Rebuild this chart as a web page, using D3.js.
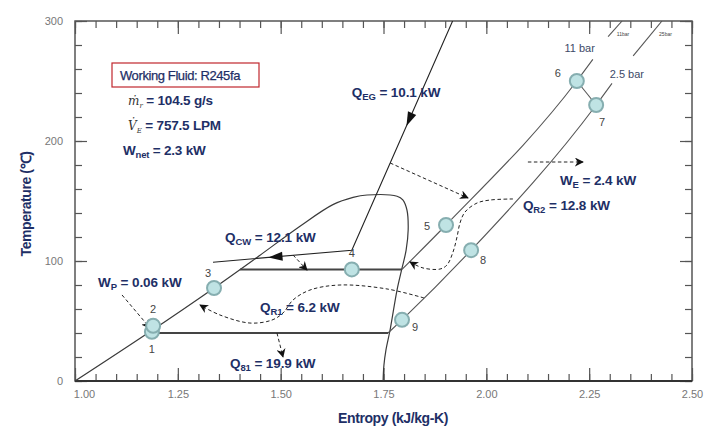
<!DOCTYPE html>
<html><head><meta charset="utf-8">
<script src="https://cdn.jsdelivr.net/npm/d3@7"></script>
<style>
body{margin:0;background:#fff}
svg{display:block}
text{font-family:"Liberation Sans",Arial,sans-serif}
</style>
</head><body>
<svg id="chart" width="714" height="436"></svg>
<script>
// ---------------- DATA ----------------
const xDomain = [1.0, 2.5];
const yDomain = [0, 300];
const xTicks = [1.00, 1.25, 1.50, 1.75, 2.00, 2.25, 2.50];
const xTickLabels = ["1.00", "1.25", "1.50", "1.75", "2.00", "2.25", "2.50"];
const yTicks = [0, 100, 200, 300];
const yTickLabels = ["0", "100", "200", "300"];
const xTitle = "Entropy (kJ/kg-K)";
const yTitle = "Temperature (℃)";

// saturation dome (entropy, temperature)
const domeS = [1.00, 1.1775, 1.34, 1.4425, 1.547, 1.627, 1.676, 1.71, 1.783, 1.797, 1.807, 1.81, 1.805, 1.795, 1.783, 1.766, 1.756, 1.751, 1.749];
const domeT = [0, 40, 78, 103, 129, 147, 153, 155, 154, 151, 142.5, 126, 109, 94, 76, 42.5, 26, 13, 0];

// state points
const stateLabels = ["1", "2", "3", "4", "5", "6", "7", "8", "9"];
const stateS = [1.187, 1.190, 1.338, 1.673, 1.902, 2.220, 2.267, 1.963, 1.795];
const stateT = [41, 46, 77.5, 93, 130, 250, 230, 109, 51];

// 11 bar isobar: evaporation + superheated branch
const evapS = [1.401, 1.795];
const evapT = [93, 93];
const hpS = [1.795, 1.902, 2.220, 2.259];
const hpT = [93, 130, 250, 268];
// 2.5 bar isobar: condensation + superheated branch
const condS = [1.1775, 1.761];
const condT = [40, 40];
const lpS = [1.761, 1.795, 1.963, 2.267, 2.3055];
const lpT = [40, 51, 109, 230, 248];
// short isobar stubs at the top right
const stub11S = [2.296, 2.330];
const stub11T = [287, 300];
const stub25S = [2.357, 2.427];
const stub25T = [271, 300];

// exhaust gas / coolant line
const egS = [1.918, 1.673, 1.3355];
const egT = [300, 109, 99];

// dashed heat-flow arrows
const dashWE_S = [2.101, 2.235];           const dashWE_T = [182.5, 182.5];
const dashEG_S = [1.766, 1.9555];          const dashEG_T = [181.7, 152.5];
const dashR2_S = [2.0648, 2.0089, 1.9773, 1.9481, 1.936, 1.9287, 1.919, 1.9044, 1.8874, 1.846, 1.8144];
const dashR2_T = [151.7, 150.8, 148.3, 140.8, 131.7, 120, 107.5, 96.7, 93.3, 94.2, 99.2];
const dashR1_S = [1.8485, 1.7585, 1.6443, 1.5713, 1.53, 1.5057, 1.4789, 1.4254, 1.3525, 1.3039];
const dashR1_T = [69.2, 76.7, 80, 75.8, 67.5, 56.7, 50.8, 48.3, 55, 63.3];
const dashCW_S = [1.530, 1.564];           const dashCW_T = [105, 92.5];
const dashWP_S = [1.1143, 1.1823];         const dashWP_T = [71.7, 44.2];
const dash81_S = [1.491, 1.5057];          const dash81_T = [40, 20];

// annotation texts: [main, subscript, rest]
const annoMain = ["Q", "W", "Q", "Q", "W", "Q", "Q"];
const annoSub = ["EG", "E", "R2", "CW", "P", "R1", "81"];
const annoRest = [" = 10.1 kW", " = 2.4 kW", " = 12.8 kW", " = 12.1 kW", " = 0.06 kW", " = 6.2 kW", " = 19.9 kW"];
const annoS = [1.673, 2.179, 2.089, 1.3647, 1.0559, 1.4498, 1.3768];
const annoT = [240.8, 167.5, 146.7, 120, 82.5, 61.7, 15];

const fluidText = "Working Fluid: R245fa";
const massText = " = 104.5 g/s";
const volText = " = 757.5 LPM";
const wnetText = " = 2.3 kW";
const bar11 = "11 bar", bar25 = "2.5 bar", tiny11 = "11bar", tiny25 = "25bar";

// ---------------- CHART ----------------
const svg = d3.select("#chart");
const x = d3.scaleLinear().domain(xDomain).range([75, 692]);
const y = d3.scaleLinear().domain(yDomain).range([381, 21]);
const navy = "#1e2f66";

svg.append("defs").append("clipPath").attr("id", "clip")
  .append("rect").attr("x", 75).attr("y", 21).attr("width", 617).attr("height", 360);
const defs = svg.select("defs");
defs.append("marker").attr("id", "ah").attr("viewBox", "0 0 10 10").attr("refX", 9).attr("refY", 5)
  .attr("markerWidth", 9).attr("markerHeight", 9).attr("markerUnits", "userSpaceOnUse").attr("orient", "auto")
  .append("path").attr("d", "M0,0 L10,5 L0,10 L3,5 Z").attr("fill", "#111");

// minor/major ticks (pointing inward)
const minorX = d3.range(1.0, 2.5001, 0.05);
const minorY = d3.range(0, 300.001, 20);
function tickAxis(axisFn, scale, vals, size, transform) {
  const g = svg.append("g").attr("transform", transform)
    .call(axisFn(scale).tickValues(vals).tickSize(size).tickFormat(""));
  g.select(".domain").remove();
  g.selectAll("line").attr("stroke", "#555").attr("stroke-width", 1.2);
  return g;
}
tickAxis(d3.axisBottom, x, minorX, -7, "translate(0,381)");
tickAxis(d3.axisBottom, x, xTicks, -13, "translate(0,381)");
tickAxis(d3.axisTop, x, minorX, -7, "translate(0,21)");
tickAxis(d3.axisTop, x, xTicks, -13, "translate(0,21)");
tickAxis(d3.axisLeft, y, minorY, -7, "translate(75,0)");
tickAxis(d3.axisLeft, y, yTicks, -12, "translate(75,0)");
tickAxis(d3.axisRight, y, minorY, -7, "translate(692,0)");
tickAxis(d3.axisRight, y, yTicks, -12, "translate(692,0)");

// frame
svg.append("rect").attr("x", 75).attr("y", 21).attr("width", 617).attr("height", 360)
  .attr("fill", "none").attr("stroke", "#555").attr("stroke-width", 1.5);
svg.append("line").attr("x1", 75).attr("x2", 692).attr("y1", 381).attr("y2", 381)
  .attr("stroke", "#333").attr("stroke-width", 2);

// tick labels
const gx = svg.append("g").attr("transform", "translate(0,381)")
  .call(d3.axisBottom(x).tickValues(xTicks).tickSize(0).tickPadding(9).tickFormat((d, i) => xTickLabels[i]));
gx.select(".domain").remove();
gx.selectAll("text").attr("fill", "#777").attr("font-size", 11).attr("font-family", "Liberation Sans, Arial, sans-serif");
gx.selectAll("text").filter((d, i) => i === 0).attr("dx", 9);
const gy = svg.append("g").attr("transform", "translate(75,0)")
  .call(d3.axisLeft(y).tickValues(yTicks).tickSize(0).tickPadding(12).tickFormat((d, i) => yTickLabels[i]));
gy.select(".domain").remove();
gy.selectAll("text").attr("fill", "#777").attr("font-size", 11).attr("font-family", "Liberation Sans, Arial, sans-serif");

// axis titles
svg.append("text").attr("x", 393).attr("y", 423).attr("text-anchor", "middle")
  .attr("font-size", 14).attr("font-weight", "bold").attr("fill", navy).attr("letter-spacing", -0.4).text(xTitle);
svg.append("text").attr("transform", "translate(31,204) rotate(-90)").attr("text-anchor", "middle")
  .attr("font-size", 14).attr("font-weight", "bold").attr("fill", navy).attr("letter-spacing", -0.4).text(yTitle);

const plot = svg.append("g").attr("clip-path", "url(#clip)");
const zip = (S, T) => S.map((s, i) => [s, T[i]]);
const lineLin = d3.line().x(d => x(d[0])).y(d => y(d[1]));
const lineSmooth = d3.line().x(d => x(d[0])).y(d => y(d[1])).curve(d3.curveCatmullRom.alpha(0.5));
const lineMono = d3.line().x(d => x(d[0])).y(d => y(d[1])).curve(d3.curveMonotoneX);

// dome
plot.append("path").attr("d", lineSmooth(zip(domeS, domeT))).attr("fill", "none").attr("stroke", "#3a3a3a").attr("stroke-width", 1.2);
// isobars
[[evapS, evapT], [condS, condT]].forEach(([S, T]) =>
  plot.append("path").attr("d", lineLin(zip(S, T))).attr("fill", "none").attr("stroke", "#444").attr("stroke-width", 2));
[[hpS, hpT], [lpS, lpT], [stub11S, stub11T], [stub25S, stub25T]].forEach(([S, T]) =>
  plot.append("path").attr("d", lineMono(zip(S, T))).attr("fill", "none").attr("stroke", "#555").attr("stroke-width", 1.1));
// expansion 6 -> 7
plot.append("path").attr("d", lineLin([[stateS[5], stateT[5]], [stateS[6], stateT[6]]]))
  .attr("fill", "none").attr("stroke", "#555").attr("stroke-width", 1.1);
// exhaust gas line
const egPts = zip(egS, egT);
plot.append("path").attr("d", lineLin(egPts)).attr("fill", "none").attr("stroke", "#222").attr("stroke-width", 1.1);
function solidArrow(p0, p1, f) {
  const X0 = x(p0[0]), Y0 = y(p0[1]), X1 = x(p1[0]), Y1 = y(p1[1]);
  const cx = X0 + (X1 - X0) * f, cy = Y0 + (Y1 - Y0) * f;
  const ang = Math.atan2(Y1 - Y0, X1 - X0) * 180 / Math.PI;
  plot.append("path").attr("d", "M7,0 L-7,-4.5 L-7,4.5 Z").attr("fill", "#111")
    .attr("transform", `translate(${cx},${cy}) rotate(${ang})`);
}
solidArrow(egPts[0], egPts[1], 0.43);
solidArrow(egPts[1], egPts[2], 0.55);

// dashed arrows
[[dashWE_S, dashWE_T, lineLin], [dashEG_S, dashEG_T, lineLin], [dashR2_S, dashR2_T, lineSmooth],
 [dashR1_S, dashR1_T, lineSmooth], [dashCW_S, dashCW_T, lineLin], [dashWP_S, dashWP_T, lineLin],
 [dash81_S, dash81_T, lineLin]].forEach(([S, T, gen]) =>
  svg.append("path").attr("d", gen(zip(S, T))).attr("fill", "none").attr("stroke", "#222")
    .attr("stroke-width", 1).attr("stroke-dasharray", "3.5,2.5").attr("marker-end", "url(#ah)"));

// state points
const pts = svg.append("g");
pts.selectAll("circle").data(stateLabels).join("circle")
  .attr("cx", (d, i) => x(stateS[i])).attr("cy", (d, i) => y(stateT[i])).attr("r", 7)
  .attr("fill", "#bfe3e4").attr("stroke", "#86aeb0").attr("stroke-width", 2);
const labOff = [[0, 17], [0, -17], [-6, -15], [0, -16], [-19, 1], [-19, -8], [6, 17], [12, 10], [13, 7]];
pts.selectAll("text").data(stateLabels).join("text")
  .attr("x", (d, i) => x(stateS[i]) + labOff[i][0]).attr("y", (d, i) => y(stateT[i]) + labOff[i][1])
  .attr("dy", "0.35em").attr("text-anchor", "middle").attr("font-size", 11).attr("fill", "#444").text(d => d);

// isobar labels
svg.append("text").attr("x", x(2.19)).attr("y", y(277.5)).attr("dy", "0.35em").attr("font-size", 11).attr("fill", "#3d4a68").text(bar11);
svg.append("text").attr("x", x(2.3)).attr("y", y(256)).attr("dy", "0.35em").attr("font-size", 11).attr("fill", "#3d4a68").text(bar25);
svg.append("text").attr("x", x(2.317)).attr("y", y(289)).attr("dy", "0.35em").attr("font-size", 5).attr("fill", "#444").text(tiny11);
svg.append("text").attr("x", x(2.42)).attr("y", y(289)).attr("dy", "0.35em").attr("font-size", 5).attr("fill", "#444").text(tiny25);

// annotations
annoMain.forEach((m, i) => {
  const t = svg.append("text").attr("x", x(annoS[i])).attr("y", y(annoT[i])).attr("dy", "0.35em")
    .attr("font-size", 13.5).attr("font-weight", "bold").attr("fill", navy).attr("letter-spacing", -0.1);
  t.append("tspan").text(m);
  t.append("tspan").attr("font-size", 9.5).attr("dy", 3).text(annoSub[i]);
  t.append("tspan").attr("dy", -3).text(annoRest[i]);
});

// info box
const bx = x(1.1094), by = y(255);
svg.append("rect").attr("x", bx - 8).attr("y", by - 12).attr("width", 147).attr("height", 24)
  .attr("fill", "#fff").attr("stroke", "#c0272d").attr("stroke-width", 1.2);
svg.append("text").attr("x", bx).attr("y", by).attr("dy", "0.35em").attr("font-size", 13)
  .attr("fill", navy).attr("letter-spacing", -0.4).attr("stroke", navy).attr("stroke-width", 0.25).text(fluidText);
const t1 = svg.append("text").attr("x", x(1.1289)).attr("y", y(235)).attr("dy", "0.35em").attr("fill", navy);
t1.append("tspan").attr("font-family", "DejaVu Serif, serif").attr("font-style", "italic").attr("font-size", 12).attr("fill", "#333").text("ṁ");
t1.append("tspan").attr("font-family", "DejaVu Serif, serif").attr("font-style", "italic").attr("font-size", 7).attr("fill", "#333").attr("dy", 3).text("r");
t1.append("tspan").attr("dy", -3).attr("font-size", 13.5).attr("font-weight", "bold").attr("letter-spacing", -0.2).text(massText);
const t2 = svg.append("text").attr("x", x(1.1289)).attr("y", y(214.2)).attr("dy", "0.35em").attr("fill", navy);
t2.append("tspan").attr("font-family", "DejaVu Serif, serif").attr("font-style", "italic").attr("font-size", 12).attr("fill", "#333").text("V̇");
t2.append("tspan").attr("font-family", "DejaVu Serif, serif").attr("font-style", "italic").attr("font-size", 7).attr("fill", "#333").attr("dy", 3).text("E");
t2.append("tspan").attr("dy", -3).attr("font-size", 13.5).attr("font-weight", "bold").attr("letter-spacing", -0.2).text(volText);
const t3 = svg.append("text").attr("x", x(1.1167)).attr("y", y(193.3)).attr("dy", "0.35em").attr("fill", navy)
  .attr("font-weight", "bold").attr("letter-spacing", -0.2);
t3.append("tspan").attr("font-size", 13.5).text("W");
t3.append("tspan").attr("font-size", 9.5).attr("dy", 3).text("net");
t3.append("tspan").attr("font-size", 13.5).attr("dy", -3).text(wnetText);
</script>
</body></html>
